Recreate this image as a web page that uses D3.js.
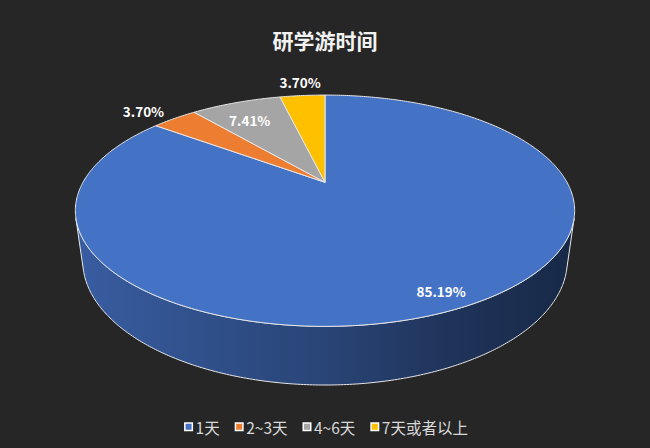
<!DOCTYPE html>
<html>
<head>
<meta charset="utf-8">
<script src="https://cdn.jsdelivr.net/npm/d3@7"></script>
<style>
  body { margin: 0; background: #262626; }
  svg { display: block; }
</style>
</head>
<body>
<div id="chart"></div>
<script>
// data
const categories = ["1天", "2~3天", "4~6天", "7天或者以上"];
const percents = [85.19, 3.70, 7.41, 3.70];
const colors = ["#4472C4", "#ED7D31", "#A5A5A5", "#FFC000"];
// label placement (radius fraction, angle nudge in degrees)
const labelRadius = [0.89, 1.19, 0.76, 1.2];
const labelNudge = [1, -2.1, -1.8, 0.3];

const svgWidth = 650;
const svgHeight = 448;

// 3d view of the pie: radius, tilt, camera distance, thickness, centre
const R = 242;
const sinT = 0.449;
const cosT = Math.sqrt(1 - sinT * sinT);
const camDist = 880;
const depth = 56;
const cx = 325, cy = 182.3;

// project a point of the pie (angle a clockwise from the back, radius fraction f, height y)
function proj(a, f, y) {
    const x = R * f * Math.sin(a);
    const z = -R * f * Math.cos(a);
    const d = camDist - (y * sinT + z * cosT);
    const s = camDist / d;
    return [cx + x * s, cy - (y * cosT - z * sinT) * s];
}

function arcPoints(a0, a1, y) {
    const n = Math.max(2, Math.ceil(Math.abs(a1 - a0) / 0.01));
    return d3.range(n + 1).map(i => proj(a0 + (a1 - a0) * i / n, 1, y));
}

const svg = d3.select("#chart")
    .append("svg")
    .attr("width", svgWidth)
    .attr("height", svgHeight)
    .style("background", "#262626");

const line = d3.line();
const arcs = d3.pie().sort(null).value(d => d)(percents);

// side shading, lighter on the left, darker on the right
const defs = svg.append("defs");
const shadeStops = [[0, 0.82], [0.5, 0.6], [0.75, 0.46], [1, 0.36]];
colors.forEach((c, i) => {
    const base = d3.rgb(c);
    const grad = defs.append("linearGradient")
        .attr("id", "side" + i)
        .attr("gradientUnits", "userSpaceOnUse")
        .attr("x1", cx - R * 1.03).attr("x2", cx + R * 1.03)
        .attr("y1", 0).attr("y2", 0);
    shadeStops.forEach(s => {
        grad.append("stop")
            .attr("offset", s[0])
            .attr("stop-color", d3.rgb(base.r * s[1], base.g * s[1], base.b * s[1]).formatHex());
    });
});

// visible part of the outer wall (faces the camera)
const aVis = Math.acos(-R / (camDist * cosT));
const wallGroup = svg.append("g");
arcs.forEach((d, i) => {
    const a0 = Math.max(d.startAngle, aVis);
    const a1 = Math.min(d.endAngle, 2 * Math.PI - aVis);
    if (a1 <= a0) return;
    const pts = arcPoints(a0, a1, 0).concat(arcPoints(a1, a0, -depth));
    wallGroup.append("path")
        .attr("d", line(pts) + "Z")
        .attr("fill", `url(#side${i})`)
        .attr("stroke", "#e8e8e8")
        .attr("stroke-width", 1)
        .attr("stroke-linejoin", "round");
});

// top faces
const topGroup = svg.append("g");
arcs.forEach((d, i) => {
    const pts = [proj(0, 0, 0)].concat(arcPoints(d.startAngle, d.endAngle, 0));
    topGroup.append("path")
        .attr("d", line(pts) + "Z")
        .attr("fill", colors[i])
        .attr("stroke", "#e8e8e8")
        .attr("stroke-width", 1)
        .attr("stroke-linejoin", "round");
});

// data labels
const labelPos = (d, i) => proj((d.startAngle + d.endAngle) / 2 + labelNudge[i] * Math.PI / 180, labelRadius[i], 0);
svg.append("g")
    .selectAll("text")
    .data(arcs)
    .enter()
    .append("text")
    .attr("x", (d, i) => labelPos(d, i)[0])
    .attr("y", (d, i) => labelPos(d, i)[1])
    .attr("text-anchor", "middle")
    .attr("dominant-baseline", "central")
    .attr("fill", "#ffffff")
    .style("font-family", "'Noto Sans CJK SC', 'Noto Sans', sans-serif")
    .style("font-weight", "bold")
    .style("font-size", "13.5px")
    .text(d => d.data.toFixed(2) + "%");

// title
svg.append("text")
    .attr("x", 325)
    .attr("y", 40)
    .attr("text-anchor", "middle")
    .attr("dominant-baseline", "central")
    .attr("fill", "#f2f2f2")
    .style("font-family", "'Noto Sans CJK SC', sans-serif")
    .style("font-weight", "bold")
    .style("font-size", "21px")
    .text("研学游时间");

// legend
const legend = svg.append("g");
let lx = 0;
categories.forEach((c, i) => {
    const item = legend.append("g").attr("transform", `translate(${lx},0)`);
    item.append("rect")
        .attr("x", 0.75).attr("y", -4)
        .attr("width", 7.5).attr("height", 7.5)
        .attr("fill", colors[i])
        .attr("stroke", "#ffffff")
        .attr("stroke-width", 1.5);
    const t = item.append("text")
        .attr("x", 11.5)
        .attr("y", 0)
        .attr("dominant-baseline", "central")
        .attr("fill", "#d9d9d9")
        .style("font-family", "'Noto Sans CJK SC', sans-serif")
        .style("font-size", "15.5px")
        .text(c);
    lx += 11.5 + t.node().getComputedTextLength() + 15;
});
const legendWidth = lx - 15;
legend.attr("transform", `translate(${326 - legendWidth / 2},427)`);
</script>
</body>
</html>
